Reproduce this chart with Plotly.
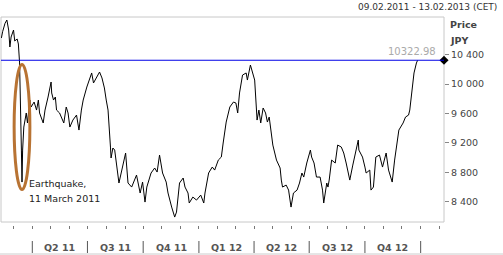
import pandas as pd
import plotly.graph_objects as go

# ---- data ----
dates = [
    "2011-02-09", "2011-02-11", "2011-02-15", "2011-02-18", "2011-02-21", "2011-02-23", "2011-02-25",
    "2011-03-01", "2011-03-03", "2011-03-07", "2011-03-09", "2011-03-10", "2011-03-11", "2011-03-14",
    "2011-03-15", "2011-03-16", "2011-03-18", "2011-03-22", "2011-03-24", "2011-03-28", "2011-03-30",
    "2011-04-04", "2011-04-08", "2011-04-11", "2011-04-13", "2011-04-19", "2011-04-22", "2011-04-27",
    "2011-05-02", "2011-05-03", "2011-05-06", "2011-05-09", "2011-05-11", "2011-05-16", "2011-05-23",
    "2011-05-27", "2011-05-30", "2011-06-02", "2011-06-07", "2011-06-13", "2011-06-17", "2011-06-21",
    "2011-06-24", "2011-06-30", "2011-07-05", "2011-07-08", "2011-07-11", "2011-07-15", "2011-07-21",
    "2011-07-25", "2011-07-29", "2011-08-01", "2011-08-04", "2011-08-08", "2011-08-09", "2011-08-12",
    "2011-08-15", "2011-08-22", "2011-08-26", "2011-09-02", "2011-09-06", "2011-09-12", "2011-09-20",
    "2011-09-26", "2011-09-30", "2011-10-04", "2011-10-07", "2011-10-14", "2011-10-20", "2011-10-24",
    "2011-10-28", "2011-11-02", "2011-11-08", "2011-11-11", "2011-11-17", "2011-11-22", "2011-11-25",
    "2011-11-30", "2011-12-06", "2011-12-09", "2011-12-14", "2011-12-16", "2011-12-22", "2011-12-28",
    "2012-01-04", "2012-01-09", "2012-01-11", "2012-01-17", "2012-01-23", "2012-01-27", "2012-02-02",
    "2012-02-07", "2012-02-10", "2012-02-15", "2012-02-21", "2012-02-27", "2012-03-02", "2012-03-05",
    "2012-03-08", "2012-03-13", "2012-03-19", "2012-03-21", "2012-03-26", "2012-03-30", "2012-04-02",
    "2012-04-06", "2012-04-09", "2012-04-12", "2012-04-16", "2012-04-20", "2012-04-23", "2012-04-26",
    "2012-05-02", "2012-05-08", "2012-05-14", "2012-05-16", "2012-05-18", "2012-05-24", "2012-05-28",
    "2012-06-01", "2012-06-05", "2012-06-11", "2012-06-15", "2012-06-19", "2012-06-22", "2012-06-27",
    "2012-07-03", "2012-07-05", "2012-07-09", "2012-07-13", "2012-07-19", "2012-07-23", "2012-07-25",
    "2012-07-30", "2012-08-01", "2012-08-03", "2012-08-07", "2012-08-13", "2012-08-17", "2012-08-23",
    "2012-08-27", "2012-08-31", "2012-09-06", "2012-09-11", "2012-09-17", "2012-09-20", "2012-09-21",
    "2012-09-27", "2012-10-01", "2012-10-03", "2012-10-09", "2012-10-11", "2012-10-15", "2012-10-19",
    "2012-10-25", "2012-10-30", "2012-11-05", "2012-11-09", "2012-11-15", "2012-11-19", "2012-11-26",
    "2012-12-03", "2012-12-07", "2012-12-12", "2012-12-14", "2012-12-18", "2012-12-20", "2012-12-21",
    "2012-12-25", "2012-12-27",
]
prices = [
    10626, 10711, 10826, 10870, 10734, 10503, 10639,
    10734, 10585, 10612, 10544, 10354, 10286, 9102,
    8667, 9102, 9415, 9606, 9470, 9782, 9687,
    9755, 9646, 9782, 9606, 9470, 9646, 9823,
    10027, 9878, 9782, 9823, 9646, 9606, 9470,
    9687, 9606, 9415, 9510, 9578, 9374, 9646,
    9782, 9959, 10095, 10150, 10014, 10082, 10163,
    10082, 9946, 9782, 9646, 9143, 8994, 9130,
    9102, 8654, 8803, 9062, 8654, 8599, 8762,
    8518, 8667, 8395, 8599, 8790, 8858, 8803,
    9034, 8790, 8667, 8518, 8327, 8191, 8259,
    8654, 8722, 8599, 8518, 8382, 8463, 8422,
    8490, 8382, 8518, 8790, 8871, 8830, 8966,
    9007, 9198, 9483, 9687, 9755, 9742, 9606,
    9878, 10122, 10150, 10054, 10258, 10122, 10054,
    9510, 9646, 9470, 9674, 9606, 9483, 9551,
    9170, 8966, 8858, 8694, 8599, 8626, 8558,
    8327, 8518, 8558, 8654, 8790, 8735, 8926,
    9102, 9007, 8926, 8735, 8735, 8558, 8382,
    8654, 8599, 8694, 8966, 8926, 9170, 9143,
    9062, 8926, 8694, 8898, 9143, 9238, 9102,
    9007, 8871, 8790, 8830, 8558, 8599, 9007,
    9034, 8871, 9062, 8830, 8667, 8966, 9374,
    9470, 9551, 9578, 9646, 9918, 10054, 10150,
    10286, 10322.98,
]
last_price = 10322.98
y_ticks = [8400, 8800, 9200, 9600, 10000, 10400]
quarter_starts = ["2011-04-01", "2011-07-01", "2011-10-01", "2012-01-01",
                  "2012-04-01", "2012-07-01", "2012-10-01", "2013-01-01"]
quarter_labels = ["Q2 11", "Q3 11", "Q4 11", "Q1 12", "Q2 12", "Q3 12", "Q4 12"]
header_text = "09.02.2011 - 13.02.2013 (CET)"
quake_lines = ["Earthquake,", "11 March 2011"]

# ---- layout constants ----
X_RANGE = ["2011-02-08 08:00", "2013-02-08 12:00"]
Y_RANGE = [8124, 10911]
FONT = "Tahoma, DejaVu Sans, sans-serif"
PH = 208.0  # paper height in px
def py(Y):  # pixel row -> paper fraction (paper bottom at row 225)
    return (225 - Y) / PH
def px(X):
    return (X - 1) / 443.0

qs = pd.to_datetime(quarter_starts)
q_mids = [qs[i] + (qs[i + 1] - qs[i]) / 2 for i in range(len(quarter_labels))]

fig = go.Figure()
fig.add_trace(go.Scatter(x=dates, y=prices, mode="lines",
                         line=dict(color="black", width=1), hoverinfo="skip"))
fig.add_trace(go.Scatter(x=[X_RANGE[1]], y=[last_price], mode="markers",
                         marker=dict(symbol="diamond", size=7, color="black"),
                         cliponaxis=False, hoverinfo="skip"))

shapes = []
# plot frame
shapes.append(dict(type="rect", xref="paper", yref="paper", x0=0, x1=1, y0=py(222), y1=1,
                   line=dict(color="#c8c8c8", width=1), layer="below"))
# last price line
shapes.append(dict(type="line", xref="paper", yref="y", x0=0, x1=1, y0=last_price, y1=last_price,
                   line=dict(color="#0000e6", width=1.2)))
# earthquake ellipse
shapes.append(dict(type="circle", xref="x", yref="y", x0="2011-03-02", x1="2011-03-28",
                   y0=8565, y1=10265, line=dict(color="#b87333", width=3)))
# quarter separators
for q in quarter_starts:
    shapes.append(dict(type="line", xref="x", yref="paper", x0=q, x1=q, y0=py(241), y1=py(253),
                       line=dict(color="#555555", width=1)))
# bottom rule
shapes.append(dict(type="line", xref="paper", yref="paper", x0=px(0), x1=px(503),
                   y0=py(254), y1=py(254), line=dict(color="#cccccc", width=1)))

ann = []
for m, lab in zip(q_mids, quarter_labels):
    ann.append(dict(x=m, xref="x", y=py(247), yref="paper", text="<b>%s</b>" % lab,
                    showarrow=False, font=dict(family=FONT, size=9.5, color="#555555"),
                    xanchor="center", yanchor="middle"))
ann.append(dict(x=px(499), xref="paper", y=py(7), yref="paper", text=header_text, showarrow=False,
                font=dict(family=FONT, size=9, color="#333333"), xanchor="right", yanchor="middle"))
ann.append(dict(x=px(448), xref="paper", y=py(25), yref="paper", text="<b>Price</b>", showarrow=False,
                font=dict(family=FONT, size=9.5, color="#444444"), xanchor="left", yanchor="middle"))
ann.append(dict(x=px(448), xref="paper", y=py(40), yref="paper", text="<b>JPY</b>", showarrow=False,
                font=dict(family=FONT, size=9.5, color="#444444"), xanchor="left", yanchor="middle"))
ann.append(dict(x=px(438), xref="paper", y=last_price, yref="y", text="%.2f" % last_price,
                showarrow=False, font=dict(family=FONT, size=10, color="#aaaaaa"),
                xanchor="right", yanchor="bottom", yshift=1))
ann.append(dict(x="2011-03-23", xref="x", y=8654, yref="y", text=quake_lines[0], showarrow=False,
                font=dict(family=FONT, size=9.5, color="#222222"), xanchor="left", yanchor="middle"))
ann.append(dict(x="2011-03-23", xref="x", y=8450, yref="y", text=quake_lines[1], showarrow=False,
                font=dict(family=FONT, size=9.5, color="#222222"), xanchor="left", yanchor="middle"))

fig.update_layout(
    width=503, height=255,
    margin=dict(l=1, r=59, t=17, b=30),
    paper_bgcolor="white", plot_bgcolor="white",
    showlegend=False,
    separators=". ",
    font=dict(family=FONT, size=9.5, color="#444444"),
    shapes=shapes, annotations=ann,
    xaxis=dict(type="date", range=X_RANGE, tickmode="linear", tick0="2011-03-01", dtick="M1",
               ticks="outside", ticklen=3, tickcolor="#777777", tickwidth=1,
               showticklabels=False, showgrid=False, zeroline=False, showline=False,
               anchor="free", position=0),
    yaxis=dict(domain=[py(222), 1], range=Y_RANGE, side="right", tickvals=y_ticks,
               tickformat=",d", ticks="outside", ticklen=4, tickcolor="#888888",
               tickfont=dict(family=FONT, size=9.5, color="#444444"),
               showgrid=False, zeroline=False, showline=False, anchor="x"),
)

fig.write_html("out.html")
